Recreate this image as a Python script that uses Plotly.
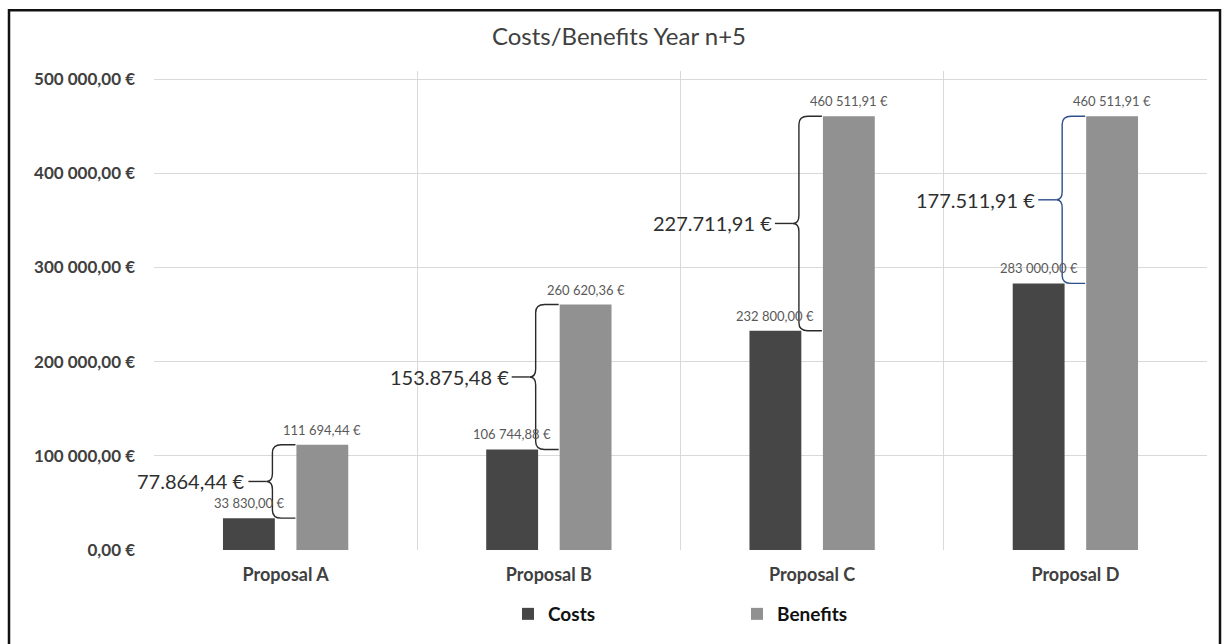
import plotly.graph_objects as go

categories = ["Proposal A", "Proposal B", "Proposal C", "Proposal D"]
costs = [33830.00, 106744.88, 232800.00, 283000.00]
benefits = [111694.44, 260620.36, 460511.91, 460511.91]
cost_labels = ["33 830,00 €", "106 744,88 €", "232 800,00 €", "283 000,00 €"]
benefit_labels = ["111 694,44 €", "260 620,36 €", "460 511,91 €", "460 511,91 €"]
diff_labels = ["77.864,44 €", "153.875,48 €", "227.711,91 €", "177.511,91 €"]
brace_colors = ["#2a2a2a", "#2a2a2a", "#2a2a2a", "#2F4E8C"]
ytick_vals = [0, 100000, 200000, 300000, 400000, 500000]
ytick_text = ["0,00 €", "100 000,00 €", "200 000,00 €", "300 000,00 €", "400 000,00 €", "500 000,00 €"]

W, H = 1225, 644
ML, MR, MT, MB = 154, 18, 71, 93
YMAX = 508500
plot_w = W - ML - MR
plot_h = H - MT - MB
px_x = 4.0 / plot_w          # data units per pixel (x)
px_y = YMAX / plot_h         # data units per pixel (y)

BARGAP = 0.442
GROUPGAP = 0.294
slot = (1 - BARGAP) / 2
barw = slot * (1 - GROUPGAP)

xs = list(range(len(categories)))

fig = go.Figure()
fig.add_trace(go.Bar(
    name="Costs", x=xs, y=costs, marker=dict(color="#464646", line=dict(width=0)),
    hoverinfo="y",
))
fig.add_trace(go.Bar(
    name="Benefits", x=xs, y=benefits, marker=dict(color="#919191", line=dict(width=0)),
    hoverinfo="y",
))

shapes = []
annotations = []
label_font = dict(family="Lato", size=13, color="#595959")
for i in xs:
    top = benefits[i]
    bot = costs[i]
    # value labels above bars
    annotations.append(dict(x=i - slot / 2, y=bot, xref="x", yref="y", text=cost_labels[i],
                            showarrow=False, xanchor="center", yanchor="bottom", yshift=5,
                            font=label_font))
    annotations.append(dict(x=i + slot / 2, y=top, xref="x", yref="y", text=benefit_labels[i],
                            showarrow=False, xanchor="center", yanchor="bottom", yshift=5,
                            font=label_font))
    mid = (top + bot) / 2
    xb = i + slot / 2 - barw / 2           # left edge of benefits bar
    xr = xb - 1 * px_x
    xv = xb - 24 * px_x
    xt = xv - 6 * px_x
    rx = 9 * px_x
    ry = 8 * px_y
    path = (
        f"M {xr},{top} L {xv + rx},{top} Q {xv},{top} {xv},{top - ry} "
        f"L {xv},{mid + ry} Q {xv},{mid} {xt},{mid} "
        f"Q {xv},{mid} {xv},{mid - ry} L {xv},{bot + ry} "
        f"Q {xv},{bot} {xv + rx},{bot} L {xr},{bot}"
    )
    shapes.append(dict(type="path", xref="x", yref="y", path=path,
                       line=dict(color=brace_colors[i], width=1.4)))
    shapes.append(dict(type="line", xref="x", yref="y", x0=xt, x1=xt - 18 * px_x,
                       y0=mid, y1=mid, line=dict(color=brace_colors[i], width=1.4)))
    annotations.append(dict(x=xt - 19 * px_x, y=mid, xref="x", yref="y",
                            text=diff_labels[i], showarrow=False, xanchor="right",
                            yanchor="middle",
                            font=dict(family="Lato", size=20, color="#2f2f2f")))

# outer border
shapes.append(dict(type="rect", xref="paper", yref="paper",
                   x0=(9 - ML) / plot_w, x1=(1220 - ML) / plot_w,
                   y0=(H - MB - 700) / plot_h, y1=(H - MB - 10) / plot_h,
                   line=dict(color="#111111", width=2.5), fillcolor="rgba(0,0,0,0)",
                   layer="above"))

fig.update_layout(
    width=W, height=H,
    margin=dict(l=ML, r=MR, t=MT, b=MB),
    paper_bgcolor="white", plot_bgcolor="white",
    barmode="group", bargap=BARGAP, bargroupgap=GROUPGAP,
    title=dict(text="Costs/Benefits Year n+5", x=(619 / W), xref="container", xanchor="center",
               y=1 - 37 / H, yref="container", yanchor="middle",
               font=dict(family="Lato", size=24, color="#404040")),
    xaxis=dict(range=[-0.5, 3.5], tickvals=xs, ticktext=categories,
               showgrid=False, zeroline=False, showline=False, ticks="",
               ticklabelstandoff=12,
               tickfont=dict(family="Lato", size=18, color="#404040", weight="bold"),
               minor=dict(tickvals=[-0.5, 0.5, 1.5, 2.5, 3.5], showgrid=True,
                          gridcolor="#d9d9d9", gridwidth=1, ticks="")),
    yaxis=dict(range=[0, YMAX], tickvals=ytick_vals, ticktext=ytick_text,
               showgrid=True, gridcolor="#d9d9d9", gridwidth=1, zeroline=False,
               showline=False, ticks="", ticklabelstandoff=18,
               tickfont=dict(family="Lato", size=17, color="#404040", weight="bold")),
    legend=dict(orientation="h", x=(508 - ML) / plot_w, xanchor="left",
                y=(H - MB - 614) / plot_h, yanchor="middle", entrywidth=184,
                font=dict(family="Lato", size=19, color="#111111", weight="bold"),
                bgcolor="rgba(0,0,0,0)"),
    shapes=shapes, annotations=annotations,
    showlegend=True,
)

fig.write_html("out.html")
